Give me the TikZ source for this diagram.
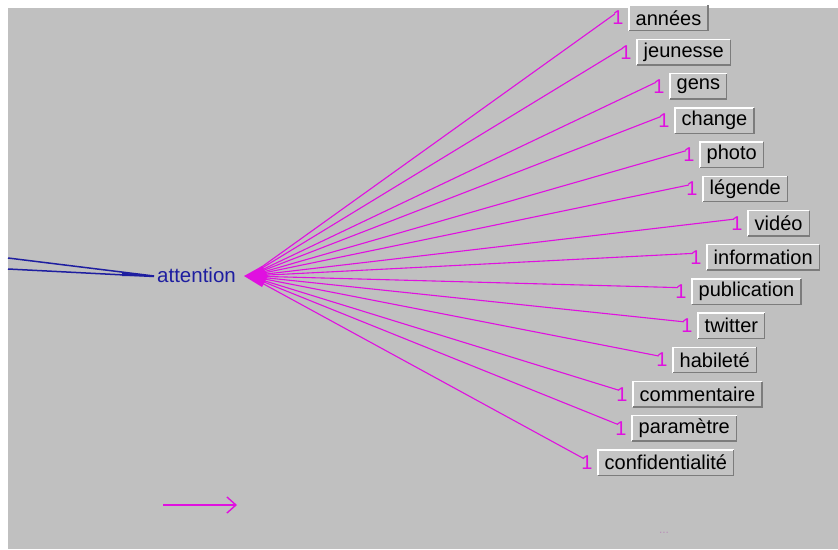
\documentclass[tikz,border=0pt]{standalone}
\usepackage{fontspec}
\setmainfont{Liberation Sans}
\usetikzlibrary{calc,arrows.meta}
\definecolor{bg}{HTML}{C0C0C0}
\definecolor{mag}{HTML}{E010E0}
\definecolor{navy}{HTML}{1E1EA0}
\definecolor{btnfill}{HTML}{C4C4C4}
\definecolor{btnedge}{HTML}{7C7C7C}
\definecolor{dotcol}{HTML}{B890B8}
\begin{document}
\begin{tikzpicture}[x=1pt,y=-1pt,
  btnbox/.style={fill=btnfill, font=\fontsize{20}{22}\selectfont, text=black,
    minimum height=25pt, inner xsep=6.5pt, inner ysep=0pt, anchor=west},
  onelbl/.style={text=mag, font=\fontsize{20}{22}\selectfont, inner sep=0pt},
  link/.style={draw=mag, line width=1.1pt},
  blueline/.style={draw=navy, line width=1.5pt}]
\fill[white] (0,0) rectangle (838,549);
\fill[bg] (8,8) rectangle (838,549);
\useasboundingbox (0,0) rectangle (838,549);

% centre word
\node[text=navy, font=\fontsize{20.5}{22}\selectfont, inner sep=0pt, anchor=west] (attention) at (157,275) {attention};
\coordinate (hub) at (249,276);
\coordinate (inA) at (8,258);
\coordinate (inB) at (8,269);
\draw[blueline] (inA) -- ($(attention.west)+(-3pt,-1pt)$);
\draw[blueline] (inB) -- ($(attention.west)+(-3pt,-1.5pt)$);
\fill[navy] ($(attention.west)+(-3pt,-1.2pt)$) -- (122,272.5) -- (122,276) -- cycle;
\fill[mag] (244,276) -- (262,266) -- (268,276) -- (262,287) -- cycle;

\foreach \n/\lbl/\bx/\k in {
  1/années/629/0, 2/jeunesse/637/1, 3/gens/670/2, 4/change/675/3,
  5/photo/700/4, 6/légende/703/5, 7/vidéo/748/6, 8/information/707/7,
  9/publication/692/8, 10/twitter/698/9, 11/habileté/673/10,
  12/commentaire/633/11, 13/paramètre/632/12, 14/confidentialité/598/13}{
  \pgfmathsetmacro{\yy}{18+34.2*\k}
  \node[btnbox] (w\n) at (\bx,\yy) {\lbl};
  \draw[white, line width=1.3pt] (w\n.south west) -- (w\n.north west) -- (w\n.north east);
  \draw[btnedge, line width=1.3pt] (w\n.south west) -- (w\n.south east) -- (w\n.north east);
  \node[onelbl] (o\n) at (\bx-11,\yy) {1};
  \draw[link] (hub) -- ($(o\n.west)+(2.5pt,4pt)$);
}

% legend arrow
\coordinate (arrA) at (163,505);
\coordinate (arrB) at (237,505);
\draw[mag, line width=1.4pt, -{Straight Barb[length=9pt,width=16pt]}] (arrA) -- (arrB);
\node[text=dotcol, font=\fontsize{12}{12}\selectfont, inner sep=0pt] (more) at (664,533) {...};
\end{tikzpicture}
\end{document}
